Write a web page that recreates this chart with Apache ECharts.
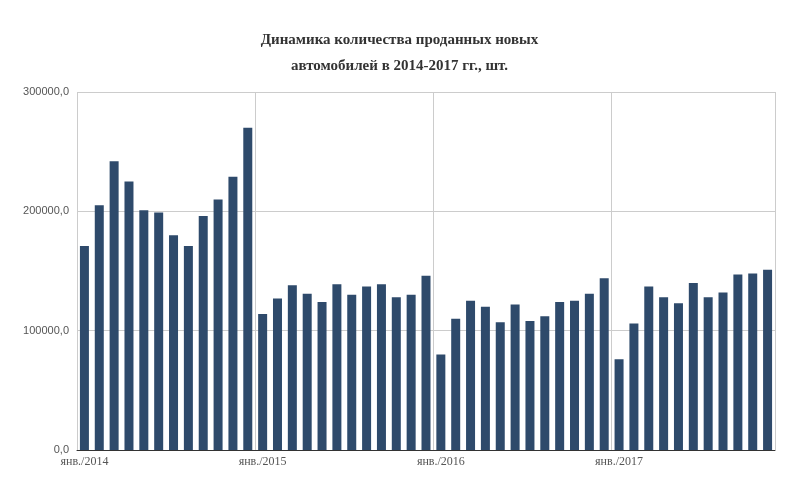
<!DOCTYPE html>
<html><head><meta charset="utf-8">
<script src="https://cdn.jsdelivr.net/npm/echarts@6/dist/echarts.min.js"></script>
<style>html,body{margin:0;background:#fff}#main{width:799px;height:494px}</style>
</head><body><div id="main"></div>
<script>
var months = ['янв.', 'февр.', 'март', 'апр.', 'май', 'июнь', 'июль', 'авг.', 'сент.', 'окт.', 'нояб.', 'дек.'];
var years = [2014, 2015, 2016, 2017];
var sales = [
    171000, 205000, 242000, 225000, 201000, 199000, 180000, 171000, 196000, 210000, 229000, 270000,
    114000, 127000, 138000, 131000, 124000, 139000, 130000, 137000, 139000, 128000, 130000, 146000,
    80000, 110000, 125000, 120000, 107000, 122000, 108000, 112000, 124000, 125000, 131000, 144000,
    76000, 106000, 137000, 128000, 123000, 140000, 128000, 132000, 147000, 148000, 151000
];
var categories = [];
years.forEach(function (y) {
    months.forEach(function (m) { categories.push(m + '/' + y); });
});
categories = categories.slice(0, sales.length);

var isJan = function (i) { return i % 12 === 0; };

var myChart = echarts.init(document.getElementById('main'));
myChart.setOption({
    backgroundColor: '#fff',
    title: {
        text: 'Динамика количества проданных новых\nавтомобилей в 2014-2017 гг., шт.',
        left: 'center', top: 22,
        textStyle: { fontFamily: 'Liberation Serif', fontWeight: 'bold', fontSize: 15, color: '#333', lineHeight: 26 }
    },
    grid: { left: 77, right: 24, top: 92, bottom: 44 },
    xAxis: {
        type: 'category',
        data: categories,
        axisLine: { lineStyle: { color: '#333' } },
        axisTick: { show: false },
        axisLabel: { interval: isJan, color: '#555', fontFamily: 'Liberation Serif', fontSize: 12, margin: 6 },
        splitLine: { show: true, interval: isJan, lineStyle: { color: '#ccc' } }
    },
    yAxis: {
        type: 'value',
        min: 0, max: 300000, interval: 100000,
        axisLine: { show: false },
        axisTick: { show: false },
        axisLabel: {
            color: '#555', fontFamily: 'Liberation Sans', fontSize: 11,
            formatter: function (v) { return v + ',0'; }
        },
        splitLine: { lineStyle: { color: '#ccc' } }
    },
    series: [{
        type: 'bar',
        data: sales,
        barWidth: 9,
        itemStyle: { color: '#2e4a6b' }
    }]
});
</script>
</body></html>
